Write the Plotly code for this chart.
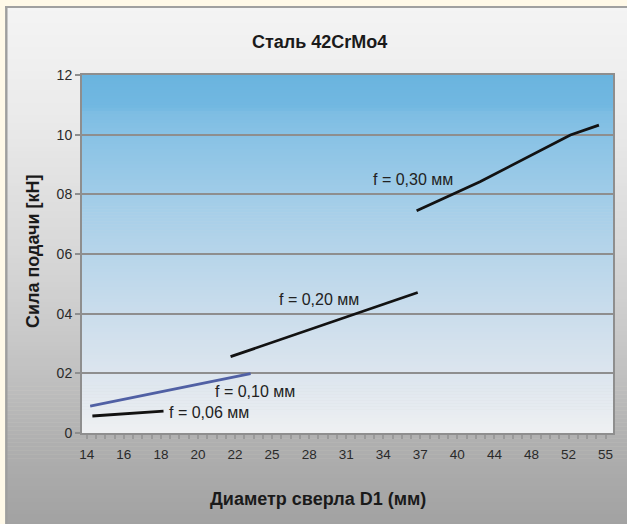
import plotly.graph_objects as go

# Drill diameters shown on the horizontal axis (evenly spaced categories)
diameters = [14, 16, 18, 20, 22, 25, 28, 31, 34, 37, 40, 44, 48, 52, 55]
y_tick_vals = [0, 2, 4, 6, 8, 10, 12]
y_tick_text = ["0", "02", "04", "06", "08", "10", "12"]

# Feed-force curves; x is the position along the diameter axis (category index)
f06_x = [0.15, 2.07]
f06_y = [0.57, 0.73]
f10_x = [0.09, 4.42]
f10_y = [0.90, 1.99]
f20_x = [3.88, 8.93]
f20_y = [2.56, 4.71]
f30_x = [8.90, 10.61, 13.05, 13.82]
f30_y = [7.45, 8.42, 9.99, 10.32]

series_names = ["f = 0,06 мм", "f = 0,10 мм", "f = 0,20 мм", "f = 0,30 мм"]
label_x = [3.30, 4.55, 6.26, 8.80]
label_y = [0.70, 1.40, 4.49, 8.51]

W, H = 627, 524
ML, MR, MT, MB = 82, 14, 75, 91
PW, PH = W - ML - MR, H - MT - MB

FONT = "Liberation Sans, Arial, sans-serif"


def hex_rgb(h):
    h = h.lstrip("#")
    return tuple(int(h[i:i + 2], 16) for i in (0, 2, 4))


def interp_color(stops, py):
    for (p0, c0), (p1, c1) in zip(stops, stops[1:]):
        if p0 <= py <= p1:
            t = (py - p0) / (p1 - p0) if p1 > p0 else 0
            a, b = hex_rgb(c0), hex_rgb(c1)
            return "rgb(%d,%d,%d)" % tuple(round(a[k] + (b[k] - a[k]) * t) for k in range(3))
    return stops[-1][1] if py > stops[-1][0] else stops[0][1]


def px_to_paper_x(px):
    return (px - ML) / PW


def px_to_paper_y(py):
    return (H - MB - py) / PH


def gradient_bands(x0, x1, y_top, y_bot, stops, n):
    shapes = []
    step = (y_bot - y_top) / n
    for i in range(n):
        a = y_top + i * step
        b = a + step
        col = interp_color(stops, (a + b) / 2)
        shapes.append(dict(
            type="rect", xref="paper", yref="paper", layer="below",
            x0=px_to_paper_x(x0), x1=px_to_paper_x(x1),
            y0=px_to_paper_y(b + 0.6), y1=px_to_paper_y(a),
            fillcolor=col, line=dict(width=0),
        ))
    return shapes


chart_stops = [(7, "#F4F4F4"), (120, "#EAEAEA"), (250, "#D8D8D8"),
               (350, "#C6C6C6"), (440, "#B0B0B0"), (524, "#A2A2A2")]
plot_stops = [(75, "#6AB4DF"), (108, "#72B8E1"), (112, "#7DBDE3"), (135, "#88C2E5"),
              (194, "#A0CCE8"), (254, "#B7D5EA"), (313, "#CADDEC"),
              (373, "#DCE5EE"), (433, "#EEF0F2")]

shapes = []
shapes += gradient_bands(7, W + 2, 7, H + 2, chart_stops, 130)
shapes += gradient_bands(ML, W - MR, MT, H - MB, plot_stops, 120)
# frame edges of the chart panel
shapes.append(dict(type="line", xref="paper", yref="paper", layer="below",
                   x0=px_to_paper_x(6.3), x1=px_to_paper_x(6.3),
                   y0=px_to_paper_y(6), y1=px_to_paper_y(H + 2),
                   line=dict(color="#9E9E9E", width=2.4)))
shapes.append(dict(type="line", xref="paper", yref="paper", layer="below",
                   x0=px_to_paper_x(5), x1=px_to_paper_x(W + 2),
                   y0=px_to_paper_y(7), y1=px_to_paper_y(7),
                   line=dict(color="#A0A0A0", width=2.2)))

fig = go.Figure()
line_specs = [
    (f06_x, f06_y, "#121212"),
    (f10_x, f10_y, "#5060A4"),
    (f20_x, f20_y, "#121212"),
    (f30_x, f30_y, "#121212"),
]
for (xs, ys, col), name in zip(line_specs, series_names):
    fig.add_trace(go.Scatter(x=xs, y=ys, mode="lines", name=name,
                             line=dict(color=col, width=2.8), showlegend=False,
                             hoverinfo="skip"))

annotations = []
for name, lx, ly in zip(series_names, label_x, label_y):
    annotations.append(dict(x=lx, y=ly, xref="x", yref="y", text=name,
                            showarrow=False, xanchor="center", yanchor="middle",
                            font=dict(family=FONT, size=16, color="#222222")))

annotations.append(dict(x=px_to_paper_x(319.7), y=px_to_paper_y(42.3), xref="paper", yref="paper",
                        text="<b>Сталь 42CrMo4</b>", showarrow=False,
                        xanchor="center", yanchor="middle",
                        font=dict(family=FONT, size=18, color="#1A1A1A")))
annotations.append(dict(x=px_to_paper_x(318.4), y=px_to_paper_y(499), xref="paper", yref="paper",
                        text="<b>Диаметр сверла D1 (мм)</b>", showarrow=False,
                        xanchor="center", yanchor="middle",
                        font=dict(family=FONT, size=18, color="#1A1A1A")))
annotations.append(dict(x=px_to_paper_x(33.3), y=px_to_paper_y(250.8), xref="paper", yref="paper",
                        text="<b>Сила подачи [кН]</b>", showarrow=False, textangle=-90,
                        xanchor="center", yanchor="middle",
                        font=dict(family=FONT, size=18, color="#1A1A1A")))

fig.update_layout(
    width=W, height=H,
    margin=dict(l=ML, r=MR, t=MT, b=MB, pad=0),
    paper_bgcolor="#FFF9E8",
    plot_bgcolor="rgba(0,0,0,0)",
    shapes=shapes,
    annotations=annotations,
    xaxis=dict(
        range=[-0.13, 14.2], tickmode="array",
        tickvals=list(range(len(diameters))), ticktext=[str(d) for d in diameters],
        showgrid=False, zeroline=False,
        showline=True, linecolor="#8E8E8E", linewidth=2, mirror=True,
        ticks="outside", ticklen=4, tickwidth=1.5, tickcolor="#9A9A9A",
        minor=dict(dtick=0.25, tick0=0, ticks="outside", ticklen=4, tickwidth=1.5,
                   tickcolor="#9A9A9A", showgrid=False),
        tickfont=dict(family=FONT, size=13.5, color="#2A2A2A"),
        ticklabelstandoff=4,
        automargin=False, fixedrange=True,
    ),
    yaxis=dict(
        range=[0, 12], tickmode="array", tickvals=y_tick_vals, ticktext=y_tick_text,
        showgrid=True, gridcolor="#8E8E8E", gridwidth=2, zeroline=False,
        showline=True, linecolor="#8E8E8E", linewidth=2, mirror=True,
        ticks="outside", ticklen=5, tickwidth=2, tickcolor="#8E8E8E",
        tickfont=dict(family=FONT, size=14, color="#2A2A2A"),
        automargin=False, fixedrange=True,
    ),
)

fig.write_html("out.html", config={"displayModeBar": False})
